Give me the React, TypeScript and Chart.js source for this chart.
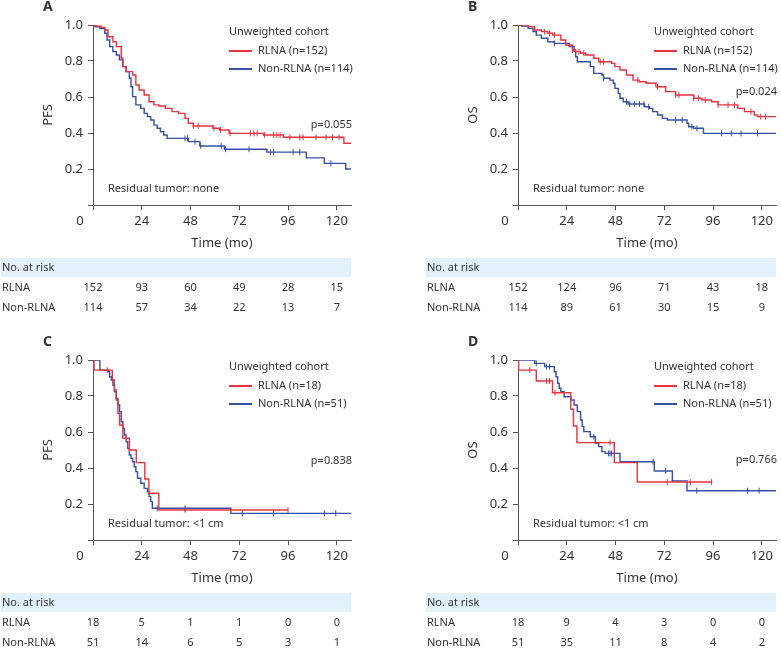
import React, { useEffect, useRef } from 'react';
import { Chart, registerables } from 'chart.js';

Chart.register(...registerables);

const RED = '#e8323e';
const BLUE = '#3550a5';
const AXIS = '#555555';
const TEXT = '#333333';
const BAND = '#e3f2fa';
const FONT = '"Noto Sans", "DejaVu Sans", sans-serif';

const xTicks = [0, 24, 48, 72, 96, 120];
const yTicks = [0, 0.2, 0.4, 0.6, 0.8, 1.0];
const xMax = 127;
const riskRowLabels = ['RLNA', 'Non-RLNA'];

// Panel A (PFS, residual none)
const aRlnaTime = [0, 2, 4, 5.8, 7.4, 9.8, 11.5, 13.9, 14.7, 16.3, 19.5, 21.1, 22.7, 25.2, 27.6, 30, 32.4, 35.6, 38.9, 42.1, 45.3, 46.9, 49.4, 59, 62.3, 67, 84, 93.7, 123.5, 127];
const aRlnaSurv = [1, 0.993, 0.987, 0.972, 0.935, 0.907, 0.88, 0.815, 0.769, 0.741, 0.722, 0.667, 0.639, 0.611, 0.574, 0.556, 0.55, 0.537, 0.519, 0.509, 0.481, 0.454, 0.439, 0.426, 0.417, 0.398, 0.389, 0.376, 0.343, 0.343];
const aRlnaCens = [49.4, 51.8, 59.5, 62.8, 67.5, 77.6, 79.2, 80.8, 84.5, 88.9, 90.5, 92.1, 96.9, 101.8, 103.4, 109.8, 114.7, 117.9, 121.1];
const aNonTime = [0, 1, 3.4, 5.8, 6.9, 8.2, 9.8, 11.5, 13, 14.7, 16.3, 17.9, 18.7, 19.5, 21.1, 23.5, 25.2, 26.8, 28.4, 30, 31.6, 33.2, 34.8, 36.5, 47, 52.6, 64.7, 85.6, 105, 113.9, 124.4, 127];
const aNonSurv = [1, 0.99, 0.98, 0.954, 0.917, 0.88, 0.852, 0.833, 0.806, 0.769, 0.741, 0.704, 0.657, 0.602, 0.556, 0.537, 0.509, 0.491, 0.472, 0.444, 0.426, 0.407, 0.389, 0.37, 0.352, 0.328, 0.31, 0.294, 0.262, 0.231, 0.2, 0.2];
const aNonCens = [45.3, 46.5, 50.2, 53, 63.1, 65.2, 76.8, 87.3, 88.9, 98.5, 101.8, 117.1];
const aRiskRlna = [152, 93, 60, 49, 28, 15];
const aRiskNon = [114, 57, 34, 22, 13, 7];

// Panel B (OS, residual none)
const bRlnaTime = [0, 5, 8.2, 11.5, 14.7, 17.1, 21.1, 23.5, 26.8, 28.4, 30.8, 33.2, 37.3, 39.7, 46.1, 47.7, 50.2, 53.4, 56.6, 59.8, 63.1, 67.9, 72.7, 77.6, 86.5, 90.5, 95.3, 98.5, 108.2, 111.5, 116.3, 117.9, 127];
const bRlnaSurv = [1, 0.991, 0.972, 0.963, 0.954, 0.944, 0.917, 0.889, 0.861, 0.852, 0.843, 0.833, 0.815, 0.796, 0.787, 0.769, 0.75, 0.722, 0.694, 0.685, 0.676, 0.657, 0.63, 0.611, 0.593, 0.583, 0.574, 0.556, 0.537, 0.519, 0.5, 0.491, 0.491];
const bRlnaCens = [13.1, 15.5, 18, 26.8, 30, 32.4, 40.5, 42.1, 59, 68.7, 77.6, 79.2, 86.5, 88.9, 92.1, 98.5, 103.4, 106.6, 114.7, 119.5, 121.9];
const bNonTime = [0, 1.8, 5, 7.4, 9, 11.5, 14.7, 17.9, 25.2, 27.6, 28.4, 29.2, 35.6, 37.3, 41.3, 42.1, 45.3, 46.9, 47.7, 49.4, 50.2, 51.8, 54.2, 62.3, 64.7, 66.3, 68.7, 71.1, 73.5, 83.2, 84, 86.5, 91.3, 127];
const bNonSurv = [1, 0.994, 0.981, 0.963, 0.944, 0.926, 0.907, 0.898, 0.88, 0.852, 0.824, 0.796, 0.769, 0.731, 0.722, 0.704, 0.694, 0.676, 0.648, 0.62, 0.593, 0.574, 0.561, 0.546, 0.537, 0.519, 0.5, 0.481, 0.472, 0.454, 0.435, 0.426, 0.398, 0.398];
const bNonCens = [17.9, 42.1, 53.4, 55, 57.4, 59.8, 62, 64.3, 77.6, 80.8, 85.6, 88.1, 100.2, 105, 109.8, 117.9];
const bRiskRlna = [152, 124, 96, 71, 43, 18];
const bRiskNon = [114, 89, 61, 30, 15, 9];

// Panel C (PFS, residual <1 cm)
const cRlnaTime = [0, 0.5, 9.5, 10.5, 11.4, 12.3, 13.1, 14.7, 17.9, 21.3, 25.5, 27.5, 32.4, 96];
const cRlnaSurv = [1, 0.944, 0.889, 0.833, 0.778, 0.704, 0.639, 0.565, 0.5, 0.43, 0.339, 0.26, 0.167, 0.167];
const cRlnaCens = [7, 45.3, 96];
const cNonTime = [0, 3.4, 7.4, 8.2, 9, 9.8, 10.6, 11.5, 12.3, 13.1, 13.9, 14.7, 15.5, 16.3, 17.1, 17.9, 18.7, 19.5, 20.3, 21.1, 21.9, 23.5, 25.2, 26.8, 27.6, 28.4, 29.2, 67.9, 127];
const cNonSurv = [1, 0.944, 0.935, 0.907, 0.889, 0.861, 0.824, 0.787, 0.75, 0.713, 0.657, 0.62, 0.583, 0.546, 0.509, 0.472, 0.454, 0.435, 0.407, 0.38, 0.343, 0.315, 0.287, 0.269, 0.241, 0.213, 0.176, 0.148, 0.148];
const cNonCens = [31.6, 45.3, 73.5, 88.9, 113.9, 119.5];
const cRiskRlna = [18, 5, 1, 1, 0, 0];
const cRiskNon = [51, 14, 6, 5, 3, 1];

// Panel D (OS, residual <1 cm)
const dRlnaTime = [0, 0.3, 9, 17, 26, 27.3, 29, 47.4, 58.7, 95.3];
const dRlnaSurv = [1, 0.944, 0.883, 0.818, 0.726, 0.633, 0.541, 0.43, 0.322, 0.322];
const dRlnaCens = [5.8, 14, 15.5, 18.2, 45.3, 73.5, 84.8, 95.3];
const dNonTime = [0, 8.2, 13.1, 17.9, 18.7, 19.5, 20.3, 21.1, 22.7, 26, 27.6, 29.2, 30.8, 31.6, 32.4, 35.6, 38.1, 39.7, 41.3, 42.9, 50.2, 67.1, 76, 83.2, 127];
const dNonSurv = [1, 0.981, 0.963, 0.935, 0.907, 0.87, 0.843, 0.824, 0.796, 0.778, 0.75, 0.713, 0.667, 0.63, 0.602, 0.574, 0.537, 0.519, 0.491, 0.481, 0.435, 0.383, 0.328, 0.274, 0.274];
const dNonCens = [9, 14, 15.5, 37.3, 44.5, 45.3, 46.1, 66.5, 72.7, 88, 113, 118.7];
const dRiskRlna = [18, 9, 4, 3, 0, 0];
const dRiskNon = [51, 35, 11, 8, 4, 2];

type Panel = {
  letter: string;
  yTitle: string;
  rlnaT: number[]; rlnaS: number[]; rlnaC: number[];
  nonT: number[]; nonS: number[]; nonC: number[];
  nR: number; nN: number;
  p: string; pY: number;
  residual: string;
  riskR: number[]; riskN: number[];
  left: number; top: number;
};

const panels: Panel[] = [
  { letter: 'A', yTitle: 'PFS', rlnaT: aRlnaTime, rlnaS: aRlnaSurv, rlnaC: aRlnaCens, nonT: aNonTime, nonS: aNonSurv, nonC: aNonCens, nR: 152, nN: 114, p: 'p=0.055', pY: 125, residual: 'Residual tumor: none', riskR: aRiskRlna, riskN: aRiskNon, left: 0, top: 0 },
  { letter: 'B', yTitle: 'OS', rlnaT: bRlnaTime, rlnaS: bRlnaSurv, rlnaC: bRlnaCens, nonT: bNonTime, nonS: bNonSurv, nonC: bNonCens, nR: 152, nN: 114, p: 'p=0.024', pY: 92, residual: 'Residual tumor: none', riskR: bRiskRlna, riskN: bRiskNon, left: 425, top: 0 },
  { letter: 'C', yTitle: 'PFS', rlnaT: cRlnaTime, rlnaS: cRlnaSurv, rlnaC: cRlnaCens, nonT: cNonTime, nonS: cNonSurv, nonC: cNonCens, nR: 18, nN: 51, p: 'p=0.838', pY: 126, residual: 'Residual tumor: <1 cm', riskR: cRiskRlna, riskN: cRiskNon, left: 0, top: 335 },
  { letter: 'D', yTitle: 'OS', rlnaT: dRlnaTime, rlnaS: dRlnaSurv, rlnaC: dRlnaCens, nonT: dNonTime, nonS: dNonSurv, nonC: dNonCens, nR: 18, nN: 51, p: 'p=0.766', pY: 125, residual: 'Residual tumor: <1 cm', riskR: dRiskRlna, riskN: dRiskNon, left: 425, top: 335 },
];

const W = 356;
const H = 320;
const AREA_LEFT = 93;
const AREA_TOP = 25;
const AREA_BOTTOM = 205;

function survAt(times: number[], surv: number[], t: number) {
  let v = surv[0];
  for (let i = 0; i < times.length; i++) if (times[i] <= t) v = surv[i];
  return v;
}

function KMPanel({ panel }: { panel: Panel }) {
  const ref = useRef<HTMLCanvasElement>(null);
  useEffect(() => {
    const pl = panel;
    const overlay = {
      id: 'overlay',
      afterDraw(chart: any) {
        const ctx = chart.ctx as CanvasRenderingContext2D;
        const xs = chart.scales.x;
        const area = chart.chartArea;
        ctx.save();
        ctx.fillStyle = TEXT;
        // panel letter
        ctx.font = `bold 14px ${FONT}`;
        ctx.textAlign = 'left';
        ctx.textBaseline = 'middle';
        ctx.fillText(pl.letter, 43, 7);
        // y title
        ctx.font = `13px ${FONT}`;
        ctx.save();
        ctx.translate(48, (area.top + area.bottom) / 2);
        ctx.rotate(-Math.PI / 2);
        ctx.textAlign = 'center';
        ctx.fillText(pl.yTitle, 0, 0);
        ctx.restore();
        // x title
        ctx.textAlign = 'center';
        ctx.fillText('Time (mo)', (area.left + area.right) / 2, 243);
        // origin "0"
        ctx.fillText('0', area.left - 13, 221);
        // legend
        ctx.font = `11px ${FONT}`;
        ctx.textAlign = 'left';
        ctx.fillText('Unweighted cohort', 229, 32);
        ctx.lineWidth = 2;
        ctx.strokeStyle = RED;
        ctx.beginPath(); ctx.moveTo(229, 51); ctx.lineTo(252, 51); ctx.stroke();
        ctx.strokeStyle = BLUE;
        ctx.beginPath(); ctx.moveTo(229, 69); ctx.lineTo(252, 69); ctx.stroke();
        ctx.fillText(`RLNA (n=${pl.nR})`, 258, 51);
        ctx.fillText(`Non-RLNA (n=${pl.nN})`, 258, 69);
        // p value
        ctx.textAlign = 'right';
        ctx.fillText(pl.p, 352, pl.pY);
        // residual
        ctx.textAlign = 'left';
        ctx.fillText(pl.residual, area.left + 15, 189);
        // risk table
        ctx.fillStyle = BAND;
        ctx.fillRect(1, 258, area.right - 1, 19);
        ctx.fillStyle = TEXT;
        ctx.font = `11px ${FONT}`;
        ctx.fillText('No. at risk', 2, 267.5);
        ctx.fillText(riskRowLabels[0], 2, 288);
        ctx.fillText(riskRowLabels[1], 2, 307.5);
        ctx.textAlign = 'center';
        xTicks.forEach((t, i) => {
          const px = xs.getPixelForValue(t);
          ctx.fillText(String(pl.riskR[i]), px, 288);
          ctx.fillText(String(pl.riskN[i]), px, 307.5);
        });
        ctx.restore();
      },
    };

    const mk = (times: number[], surv: number[]) => times.map((t, i) => ({ x: t, y: surv[i] }));
    const cens = (c: number[], times: number[], surv: number[]) => c.map((t) => ({ x: t, y: survAt(times, surv, t) }));

    const chart = new Chart(ref.current as HTMLCanvasElement, {
      type: 'line',
      data: {
        datasets: [
          { data: mk(pl.rlnaT, pl.rlnaS), borderColor: RED, borderWidth: 1.4, stepped: true, pointRadius: 0, fill: false },
          { data: mk(pl.nonT, pl.nonS), borderColor: BLUE, borderWidth: 1.4, stepped: true, pointRadius: 0, fill: false },
          { data: cens(pl.rlnaC, pl.rlnaT, pl.rlnaS), showLine: false, pointStyle: 'line', pointRotation: 90, pointRadius: 3, pointBorderWidth: 1, pointBorderColor: RED, borderColor: RED },
          { data: cens(pl.nonC, pl.nonT, pl.nonS), showLine: false, pointStyle: 'line', pointRotation: 90, pointRadius: 3, pointBorderWidth: 1, pointBorderColor: BLUE, borderColor: BLUE },
        ] as any,
      },
      options: {
        animation: false,
        responsive: false,
        maintainAspectRatio: false,
        events: [],
        layout: { padding: { top: AREA_TOP, left: 0, right: 1, bottom: 0 } },
        plugins: { legend: { display: false }, tooltip: { enabled: false } },
        scales: {
          x: {
            type: 'linear',
            min: 0,
            max: xMax,
            afterBuildTicks: (s: any) => { s.ticks = xTicks.map((v) => ({ value: v })); },
            afterFit: (s: any) => { s.height = H - AREA_BOTTOM; },
            grid: { display: true, drawOnChartArea: false, drawTicks: true, tickLength: 5, color: AXIS, lineWidth: 1 },
            border: { display: true, color: AXIS, width: 1 },
            ticks: {
              padding: 3,
              color: TEXT,
              font: { family: FONT, size: 13 },
              maxRotation: 0,
              autoSkip: false,
              callback: (v: any) => (v === 0 ? '' : String(v)),
            },
          },
          y: {
            type: 'linear',
            min: 0,
            max: 1,
            afterBuildTicks: (s: any) => { s.ticks = yTicks.map((v) => ({ value: v })); },
            afterFit: (s: any) => { s.width = AREA_LEFT; },
            grid: { display: true, drawOnChartArea: false, drawTicks: true, tickLength: 5, color: AXIS, lineWidth: 1 },
            border: { display: true, color: AXIS, width: 1 },
            ticks: {
              padding: 5,
              color: TEXT,
              font: { family: FONT, size: 13 },
              autoSkip: false,
              callback: (v: any) => (v === 0 ? '' : Number(v).toFixed(1)),
            },
          },
        },
      } as any,
      plugins: [overlay],
    });
    return () => chart.destroy();
  }, [panel]);

  return (
    <canvas
      ref={ref}
      width={W}
      height={H}
      style={{ position: 'absolute', left: panel.left, top: panel.top, width: W, height: H }}
    />
  );
}

export default function App() {
  return (
    <div style={{ position: 'fixed', left: 0, top: 0, width: 781, height: 648, overflow: 'hidden', background: '#ffffff' }}>
      {panels.map((p) => (
        <KMPanel key={p.letter} panel={p} />
      ))}
    </div>
  );
}
